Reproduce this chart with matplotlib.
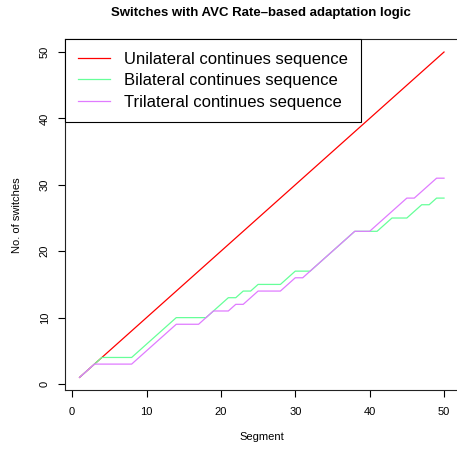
import matplotlib
matplotlib.use("Agg")
import matplotlib.pyplot as plt
import numpy as np

plt.rcParams['font.family'] = ['Liberation Sans', 'DejaVu Sans']

segments = list(range(1, 51))
unilateral = list(range(1, 51))
bilateral = [1, 2, 3, 4, 4, 4, 4, 4, 5, 6,
             7, 8, 9, 10, 10, 10, 10, 10, 11, 12,
             13, 13, 14, 14, 15, 15, 15, 15, 16, 17,
             17, 17, 18, 19, 20, 21, 22, 23, 23, 23,
             23, 24, 25, 25, 25, 26, 27, 27, 28, 28]
trilateral = [1, 2, 3, 3, 3, 3, 3, 3, 4, 5,
              6, 7, 8, 9, 9, 9, 9, 10, 11, 11,
              11, 12, 12, 13, 14, 14, 14, 14, 15, 16,
              16, 17, 18, 19, 20, 21, 22, 23, 23, 23,
              24, 25, 26, 27, 28, 28, 29, 30, 31, 31]
series_labels = ["Unilateral continues sequence",
                 "Bilateral continues sequence",
                 "Trilateral continues sequence"]
series_colors = ["#FF0000", "#66FF99", "#E07BFF"]
tick_values = [0, 10, 20, 30, 40, 50]

W, H = 457, 451
fig = plt.figure(figsize=(W / 100, H / 100), dpi=100)
left, right, top, bottom = 65, 458.6, 39, 390.4
ax = fig.add_axes([left / W, 1 - bottom / H, (right - left) / W, (bottom - top) / H])

for ys, lab, col in zip([unilateral, bilateral, trilateral], series_labels, series_colors):
    ax.plot(segments, ys, color=col, lw=0.9, label=lab)

ax.set_xlim(1 - 1.96, 50 + 1.96)
ax.set_ylim(1 - 1.96, 50 + 1.96)
ax.set_xticks(tick_values)
ax.set_yticks(tick_values)
ax.tick_params(axis='both', direction='out', length=5, width=0.8, labelsize=8, color='black')
ax.tick_params(axis='x', pad=7)
ax.tick_params(axis='y', pad=6)
for lbl in ax.get_yticklabels():
    lbl.set_rotation(90)
    lbl.set_va('center')
for sp in ax.spines.values():
    sp.set_linewidth(0.8)
    sp.set_color('#222222')
ax.spines['right'].set_visible(False)

ax.set_xlabel("Segment", fontsize=8, labelpad=11)
ax.set_ylabel("No. of switches", fontsize=8, labelpad=13)
fig.text(261 / W, 1 - 13 / H, "Switches with AVC Rate\u2013based adaptation logic",
         ha='center', va='center', fontsize=9.5, fontweight='bold')

leg = ax.legend(loc='upper left', borderaxespad=0, fontsize=12.0, frameon=True,
                fancybox=False, edgecolor='black', framealpha=1,
                handlelength=1.95, handletextpad=0.85, labelspacing=0.4,
                borderpad=0.75)
leg.get_frame().set_linewidth(0.8)

fig.savefig("out.png", dpi=100)
